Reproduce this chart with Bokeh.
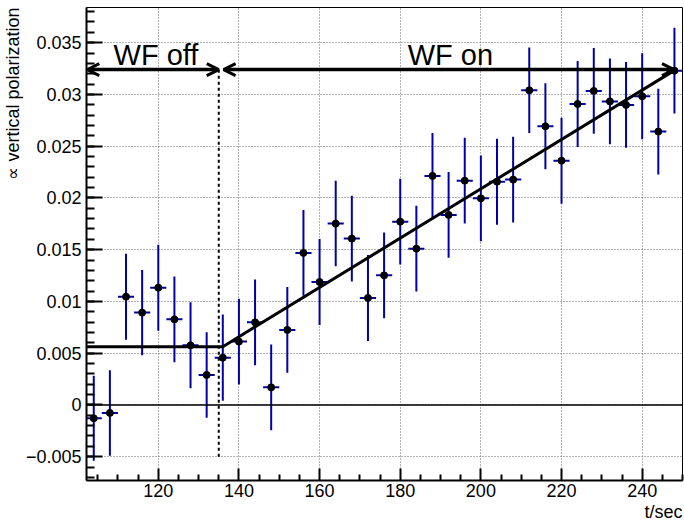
from bokeh.plotting import figure
from bokeh.models import (Range1d, FixedTicker, Label, Span, Arrow, OpenHead,
                          ColumnDataSource, Title)
from bokeh.embed import file_html
from bokeh.resources import INLINE

# ---------------- data ----------------
t_sec = [104, 108, 112, 116, 120, 124, 128, 132, 136, 140, 144, 148, 152,
         156, 160, 164, 168, 172, 176, 180, 184, 188, 192, 196, 200, 204,
         208, 212, 216, 220, 224, 228, 232, 236, 240, 244, 248]
polarization = [-0.00129, -0.00077, 0.01046, 0.00892, 0.01133, 0.00827,
                0.00576, 0.00290, 0.00457, 0.00612, 0.00798, 0.00170,
                0.00725, 0.01469, 0.01188, 0.01752, 0.01607, 0.01034,
                0.01252, 0.01771, 0.01510, 0.02213, 0.01836, 0.02167,
                0.01996, 0.02157, 0.02177, 0.03040, 0.02692, 0.02360,
                0.02908, 0.03034, 0.02933, 0.02899, 0.02982, 0.02641,
                0.03230]
pol_err = [0.00410, 0.00413, 0.00415, 0.00413, 0.00415, 0.00415, 0.00415,
           0.00413, 0.00417, 0.00414, 0.00415, 0.00415, 0.00415, 0.00415,
           0.00415, 0.00413, 0.00415, 0.00415, 0.00415, 0.00415, 0.00415,
           0.00415, 0.00415, 0.00415, 0.00415, 0.00415, 0.00415, 0.00413,
           0.00415, 0.00415, 0.00415, 0.00415, 0.00415, 0.00415, 0.00415,
           0.00415, 0.00414]
t_half_width = [2] * len(t_sec)

# piecewise-linear fit (flat, then linear rise)
fit_t = [102.2, 136.0, 248.3]
fit_pol = [0.00563, 0.00563, 0.03240]

x_ticks = [120, 140, 160, 180, 200, 220, 240]
x_minor_ticks = [105, 110, 115, 125, 130, 135, 145, 150, 155, 165, 170, 175,
                 185, 190, 195, 205, 210, 215, 225, 230, 235, 245, 250]
y_ticks = [-0.005, 0.0, 0.005, 0.01, 0.015, 0.02, 0.025, 0.03, 0.035]
y_tick_labels = ["\u22120.005", "0", "0.005", "0.01", "0.015", "0.02",
                 "0.025", "0.03", "0.035"]
y_minor_ticks = [round(-0.007 + 0.001 * i, 3) for i in range(46)]

x_title = "t/sec"
y_title = "\u221d vertical polarization"

FONT = "Liberation Sans"
ERR_COLOR = "#0000a8"

src = ColumnDataSource(dict(
    x=t_sec, y=polarization,
    y_lo=[v - e for v, e in zip(polarization, pol_err)],
    y_hi=[v + e for v, e in zip(polarization, pol_err)],
    x_lo=[t - w for t, w in zip(t_sec, t_half_width)],
    x_hi=[t + w for t, w in zip(t_sec, t_half_width)],
))

p = figure(width=684, height=521, output_backend="svg", toolbar_location=None,
           x_range=Range1d(102.2, 250.0), y_range=Range1d(-0.0073, 0.0384),
           min_border_left=85, min_border_right=2, min_border_top=7,
           min_border_bottom=41)
p.background_fill_color = "white"
p.border_fill_color = "white"
p.outline_line_color = "black"
p.outline_line_width = 1

# axes
xt = FixedTicker(ticks=x_ticks, minor_ticks=x_minor_ticks)
yt = FixedTicker(ticks=y_ticks, minor_ticks=y_minor_ticks)
xa = p.xaxis[0]
ya = p.yaxis[0]
xa.ticker = xt
ya.ticker = yt
p.xgrid.ticker = xt
p.ygrid.ticker = yt
ya.major_label_overrides = dict(zip(y_ticks, y_tick_labels))

for ax in (xa, ya):
    ax.axis_line_width = 2
    ax.axis_line_color = "black"
    ax.major_tick_out = 0
    ax.minor_tick_out = 0
    ax.major_tick_line_width = 2
    ax.minor_tick_line_width = 2
    ax.major_tick_line_color = "black"
    ax.minor_tick_line_color = "black"
    ax.major_label_text_font = FONT
    ax.major_label_text_font_size = "18px"
    ax.major_label_text_color = "black"
xa.major_tick_in = 12
xa.minor_tick_in = 6
ya.major_tick_in = 16
ya.minor_tick_in = 8
xa.major_label_standoff = 3
ya.major_label_standoff = 5

# axis titles at the end of each axis (ROOT style), as side titles
for side, title in (("below", x_title), ("left", y_title)):
    p.add_layout(Title(text=title, align="right", text_font=FONT,
                       text_font_size="18px", text_font_style="normal",
                       text_color="black", standoff=0, offset=0), side)

for g in (p.xgrid[0], p.ygrid[0]):
    g.grid_line_color = "#666666"
    g.grid_line_dash = "1 2"
    g.grid_line_width = 1

# zero line
p.add_layout(Span(location=0, dimension="width", line_color="black",
                  line_width=1.5))

# error bars + markers
p.segment(x0="x", y0="y_lo", x1="x", y1="y_hi", source=src,
          line_color=ERR_COLOR, line_width=2)
p.segment(x0="x_lo", y0="y", x1="x_hi", y1="y", source=src,
          line_color=ERR_COLOR, line_width=2)
p.scatter(x="x", y="y", source=src, size=7, fill_color="black",
          line_color="black")

# fit
p.line(fit_t, fit_pol, line_color="black", line_width=3)

# annotations: dashed divider, arrows, texts
p.segment(x0=[135.0], y0=[-0.005], x1=[135.0], y1=[0.0324],
          line_color="black", line_width=2, line_dash="3 3")

arrow_y = 0.0324
for xs, xe in ((102.4, 135.0), (136.2, 247.9)):
    p.add_layout(Arrow(start=OpenHead(size=12, line_width=3, line_color="black"),
                       end=OpenHead(size=12, line_width=3, line_color="black"),
                       x_start=xs, y_start=arrow_y, x_end=xe, y_end=arrow_y,
                       line_width=3.5, line_color="black"))

for tx, txt in ((108.9, "WF off"), (181.85, "WF on")):
    p.add_layout(Label(x=tx, y=0.03385, text=txt, text_font=FONT,
                       text_font_size="29px", text_align="left",
                       text_baseline="alphabetic", text_color="black"))

open("out.html", "w").write(file_html(p, INLINE))
